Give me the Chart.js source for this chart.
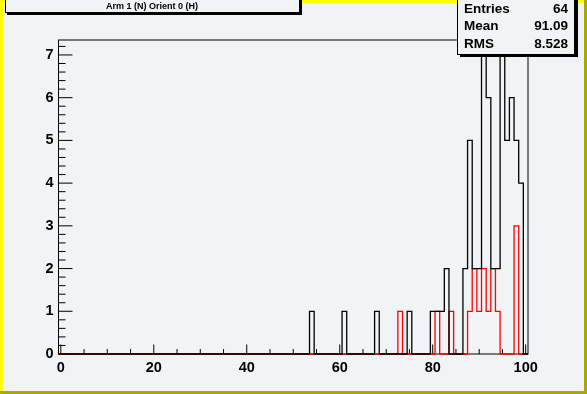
<!DOCTYPE html>
<html>
<head>
<meta charset="utf-8">
<script src="https://cdn.jsdelivr.net/npm/chart.js@4.4.0/dist/chart.umd.min.js"></script>
<style>
  html, body { margin: 0; padding: 0; background: #f0f4f5; }
  #wrap { width: 587px; height: 394px; position: relative; }
</style>
</head>
<body>
<div id="wrap"><canvas id="hist" width="587" height="394"></canvas></div>
<script>
// Histogram contents (1-wide bins centred on integers)
const binLow = 0;
const binHigh = 100;
const allBins = [54, 61, 68, 75, 80, 81, 82, 83, 87, 88, 89, 90, 91, 92, 93, 94, 95, 96, 97, 98, 99];
const allCounts = [1, 1, 1, 1, 1, 1, 1, 2, 2, 5, 2, 2, 7, 6, 2, 2, 7, 5, 6, 5, 4];
const subBins = [73, 81, 84, 88, 89, 90, 91, 92, 93, 94, 98];
const subCounts = [1, 1, 1, 1, 2, 1, 2, 1, 2, 1, 3];

const xTickLabels = [0, 20, 40, 60, 80, 100];
const yTickLabels = [0, 1, 2, 3, 4, 5, 6, 7];

const histTitle = 'Arm 1 (N) Orient 0 (H)';
const statNames = ['Entries', 'Mean', 'RMS'];
const statValues = ['64', '91.09', '8.528'];

const bgColor = '#f0f4f5';
const fontFamily = '"Liberation Sans", Arial, Helvetica, sans-serif';

// Turn bin contents into outline points (left edge of every bin)
function stepPoints(bins, counts) {
    const content = {};
    bins.forEach((b, i) => { content[b] = counts[i]; });
    const pts = [];
    for (let b = binLow; b <= binHigh; b++) {
        pts.push({ x: b - 0.5, y: content[b] || 0 });
    }
    pts.push({ x: binHigh + 0.5, y: content[binHigh] || 0 });
    return pts;
}

// Canvas background, frame, inward ticks, title and stats boxes
const rootStyle = {
    id: 'rootStyle',
    beforeDraw(chart) {
        const c = chart.ctx;
        const W = chart.width, H = chart.height;
        c.save();
        c.fillStyle = bgColor;
        c.fillRect(0, 0, W, H);
        // bevelled canvas border
        c.fillStyle = '#ffff00';
        c.fillRect(0, 0, W, 3);
        c.fillRect(0, 0, 3, H);
        c.fillStyle = '#a8a800';
        c.fillRect(0, H - 3, W, 3);
        c.fillRect(W - 3, 0, 3, H);
        c.restore();
    },
    beforeDatasetsDraw(chart) {
        const c = chart.ctx;
        const a = chart.chartArea;
        const xs = chart.scales.x, ys = chart.scales.y;
        c.save();
        c.strokeStyle = '#000';
        c.lineWidth = 1;
        c.strokeRect(a.left, a.top, a.right - a.left, a.bottom - a.top);
        c.beginPath();
        // x ticks: major every 20, minor every 5
        for (let v = 0; v <= 100; v += 5) {
            const px = xs.getPixelForValue(v);
            const len = v % 20 === 0 ? 9.5 : 5;
            c.moveTo(px, a.bottom);
            c.lineTo(px, a.bottom - len);
        }
        // y ticks: major every 1, minor every 0.2
        for (let i = 0; i * 0.2 <= ys.max + 1e-9; i++) {
            const py = ys.getPixelForValue(i * 0.2);
            const len = i % 5 === 0 ? 14 : 7;
            c.moveTo(a.left, py);
            c.lineTo(a.left + len, py);
        }
        c.stroke();
        c.restore();
    },
    afterDraw(chart) {
        const c = chart.ctx;
        c.save();
        // title box
        c.fillStyle = '#000';
        c.fillRect(7, 0, 295, 15);
        c.fillStyle = bgColor;
        c.fillRect(5, -2, 295, 15);
        c.strokeStyle = '#000';
        c.lineWidth = 1;
        c.strokeRect(5.5, -2, 294, 14.5);
        c.fillStyle = '#000';
        c.font = 'bold 9px ' + fontFamily;
        c.textAlign = 'center';
        c.textBaseline = 'middle';
        c.fillText(histTitle, 152, 7);
        // stats box
        c.fillStyle = '#000';
        c.fillRect(460, 0, 118, 57);
        c.fillStyle = bgColor;
        c.fillRect(457, -2, 118, 57);
        c.strokeRect(457.5, -2, 117, 56.5);
        c.fillStyle = '#000';
        c.font = 'bold 13.5px ' + fontFamily;
        statNames.forEach((name, i) => {
            const y = 9 + i * 17.5;
            c.textAlign = 'left';
            c.fillText(name, 464, y);
            c.textAlign = 'right';
            c.fillText(statValues[i], 568, y);
        });
        c.restore();
    }
};

const tickFont = { family: fontFamily, size: 14.5, weight: 'bold' };

new Chart(document.getElementById('hist').getContext('2d'), {
    type: 'line',
    data: {
        datasets: [
            {
                data: stepPoints(allBins, allCounts),
                borderColor: '#000000',
                borderWidth: 1.3,
                stepped: 'before',
                pointRadius: 0,
                fill: false,
                clip: false
            },
            {
                data: stepPoints(subBins, subCounts),
                borderColor: '#ff0000',
                borderWidth: 1.3,
                stepped: 'before',
                pointRadius: 0,
                fill: false,
                clip: false
            }
        ]
    },
    options: {
        responsive: false,
        animation: false,
        devicePixelRatio: 1,
        layout: { padding: { left: 0, top: 40, right: 59, bottom: 0 } },
        plugins: {
            legend: { display: false },
            tooltip: { enabled: false }
        },
        scales: {
            x: {
                type: 'linear',
                min: -0.5,
                max: 100.5,
                grid: { display: false, drawTicks: false },
                border: { display: false },
                afterBuildTicks: s => { s.ticks = xTickLabels.map(v => ({ value: v })); },
                afterFit: s => { s.height = 40; },
                ticks: { font: tickFont, color: '#000', padding: 5, maxRotation: 0, autoSkip: false }
            },
            y: {
                type: 'linear',
                min: 0,
                max: 7.35,
                grid: { display: false, drawTicks: false },
                border: { display: false },
                afterBuildTicks: s => { s.ticks = yTickLabels.map(v => ({ value: v })); },
                afterFit: s => { s.width = 58.5; },
                ticks: { font: tickFont, color: '#000', padding: 5, autoSkip: false }
            }
        }
    },
    plugins: [rootStyle]
});
</script>
</body>
</html>
